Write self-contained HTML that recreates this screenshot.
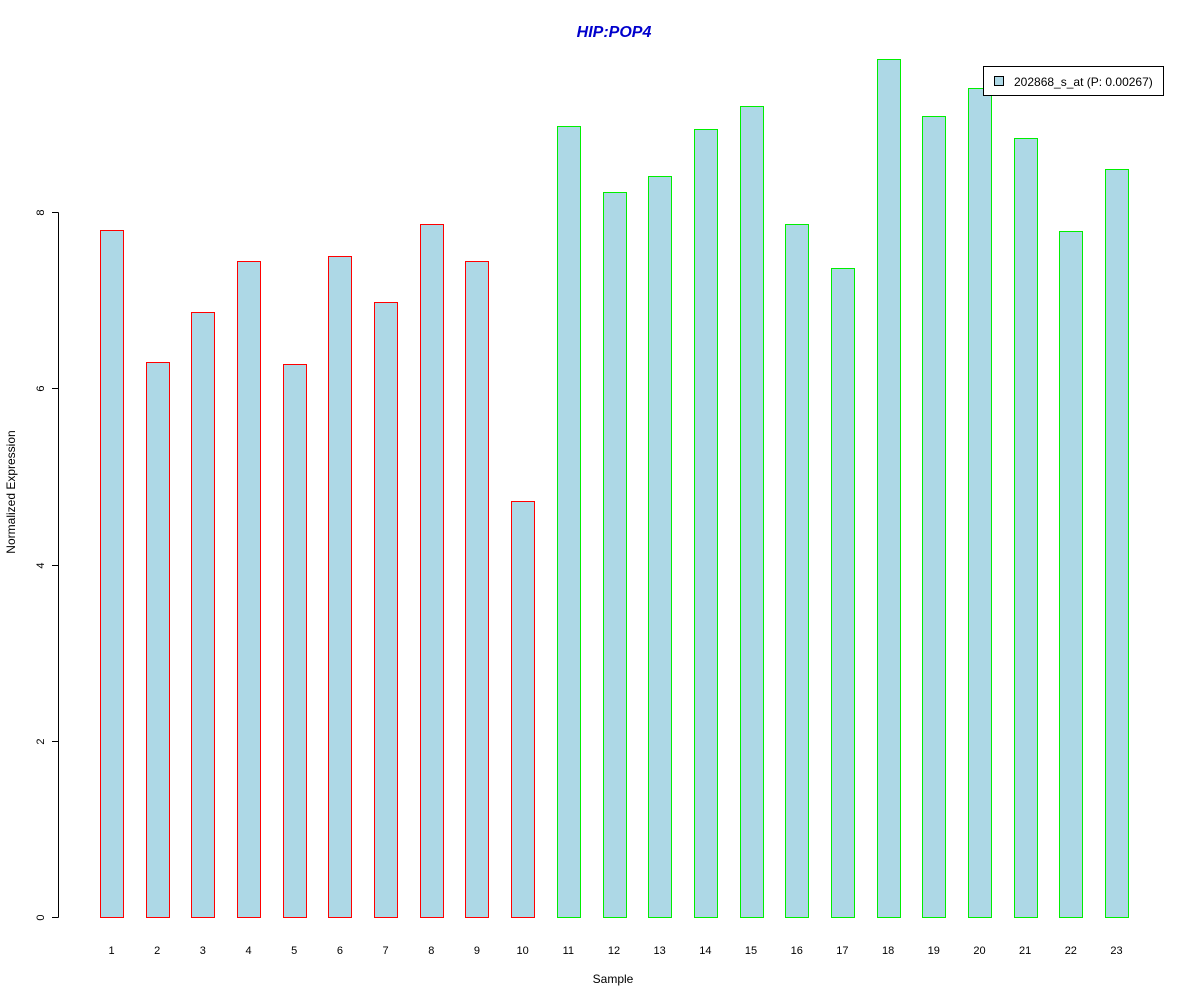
<!DOCTYPE html>
<html><head><meta charset="utf-8"><style>
html,body{margin:0;padding:0;background:#fff;}
svg{display:block;font-family:"Liberation Sans",Arial,sans-serif;}
</style></head><body>
<svg id="chart" width="1200" height="1000" xmlns="http://www.w3.org/2000/svg">
<rect width="1200" height="1000" fill="#fff"/>
<text x="614" y="37" text-anchor="middle" font-size="16" font-weight="bold" font-style="italic" fill="#0000cc">HIP:POP4</text>
<text x="613" y="983" text-anchor="middle" font-size="12">Sample</text>
<text transform="translate(15,492) rotate(-90)" text-anchor="middle" font-size="12">Normalized Expression</text>
<g id="bars"></g>
<g id="xlabels"></g>
<g id="yaxis"></g>
<g>
<rect x="983.5" y="66.5" width="180" height="29" fill="#fff" stroke="#000"/>
<rect x="994.5" y="76.5" width="9" height="9" fill="#add8e6" stroke="#000"/>
<text x="1014" y="86" font-size="12">202868_s_at (P: 0.00267)</text>
</g>
</svg>
<script>
const categories = ["1","2","3","4","5","6","7","8","9","10","11","12","13","14","15","16","17","18","19","20","21","22","23"];
const values = [7.80,6.30,6.87,7.44,6.28,7.50,6.98,7.86,7.44,4.72,8.98,8.23,8.41,8.94,9.20,7.86,7.36,9.74,9.09,9.41,8.84,7.78,8.49];
const groups = ["a","a","a","a","a","a","a","a","a","a","b","b","b","b","b","b","b","b","b","b","b","b","b"];
const yTicks = [0,2,4,6,8];
const NS="http://www.w3.org/2000/svg";
const y0=917, pxPerUnit=(917-212)/8;
const yScale=v=>y0-v*pxPerUnit;
const xStart=111.5, xStep=(1116.5-111.5)/22;
const xScale=i=>xStart+i*xStep;
const barW=23;
const bars=document.getElementById('bars'), xl=document.getElementById('xlabels'), ya=document.getElementById('yaxis');
values.forEach((v,i)=>{
  const r=document.createElementNS(NS,'rect');
  
  
  const x=Math.round(xScale(i)-barW/2)+0.5, yt=Math.round(yScale(v))+0.5;
  r.setAttribute('x',x);r.setAttribute('y',yt);
  r.setAttribute('width',barW);r.setAttribute('height',y0+0.5-yt);
  r.setAttribute('fill','#add8e6');
  r.setAttribute('stroke',groups[i]==='a'?'#ff0000':'#00ee00');
  bars.appendChild(r);
  const t=document.createElementNS(NS,'text');
  
  
  t.setAttribute('x',xScale(i));t.setAttribute('y',954);
  t.setAttribute('text-anchor','middle');t.setAttribute('font-size','11');
  t.textContent=categories[i];
  xl.appendChild(t);
});
const ax=document.createElementNS(NS,'line');


ax.setAttribute('x1',58.5);ax.setAttribute('x2',58.5);
ax.setAttribute('y1',yScale(yTicks[yTicks.length-1])+0.5);ax.setAttribute('y2',yScale(0)+0.5);
ax.setAttribute('stroke','#000');
ya.appendChild(ax);
yTicks.forEach(v=>{
  const y=Math.round(yScale(v))+0.5;
  const l=document.createElementNS(NS,'line');
  
  
  l.setAttribute('x1',52);l.setAttribute('x2',58.5);l.setAttribute('y1',y);l.setAttribute('y2',y);
  l.setAttribute('stroke','#000');
  ya.appendChild(l);
  const t=document.createElementNS(NS,'text');
  
  
  t.setAttribute('transform','translate(44,'+y+') rotate(-90)');
  t.setAttribute('text-anchor','middle');t.setAttribute('font-size','11');
  t.textContent=v;
  ya.appendChild(t);
});
</script>
</body></html>
